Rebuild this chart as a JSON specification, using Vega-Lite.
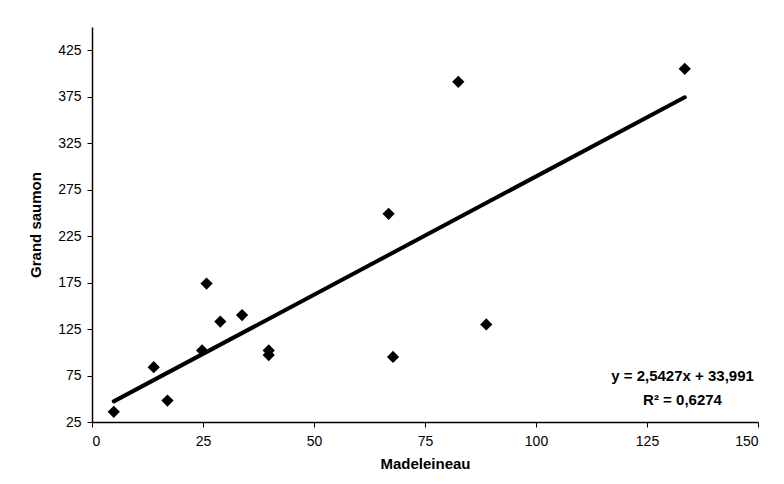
{
  "$schema": "https://vega.github.io/schema/vega-lite/v6.json",
  "autosize": {"type": "none"},
  "padding": {"left": 92, "top": 27, "right": 26, "bottom": 62},
  "width": 666,
  "height": 395,
  "background": "white",
  "config": {
    "view": {"stroke": null},
    "font": "Liberation Sans",
    "axis": {
      "grid": false,
      "domainColor": "black",
      "domainWidth": 1.5,
      "tickColor": "black",
      "tickSize": 5,
      "labelColor": "black",
      "labelFont": "Liberation Sans",
      "labelFontSize": 14,
      "titleFont": "Liberation Sans",
      "titleFontSize": 15,
      "titleFontWeight": "bold",
      "titleColor": "black"
    }
  },
  "datasets": {
    "pts": [
      {"Madeleineau": 4.9, "Grand saumon": 36},
      {"Madeleineau": 13.9, "Grand saumon": 84},
      {"Madeleineau": 17.0, "Grand saumon": 48},
      {"Madeleineau": 24.8, "Grand saumon": 102},
      {"Madeleineau": 25.8, "Grand saumon": 174},
      {"Madeleineau": 28.9, "Grand saumon": 133},
      {"Madeleineau": 33.8, "Grand saumon": 140},
      {"Madeleineau": 39.8, "Grand saumon": 102},
      {"Madeleineau": 39.8, "Grand saumon": 97},
      {"Madeleineau": 66.8, "Grand saumon": 249},
      {"Madeleineau": 67.8, "Grand saumon": 95},
      {"Madeleineau": 82.5, "Grand saumon": 391},
      {"Madeleineau": 88.8, "Grand saumon": 130},
      {"Madeleineau": 133.5, "Grand saumon": 405}
    ],
    "eq": [
      {"x": 133, "y": 74, "label": "y = 2,5427x + 33,991"},
      {"x": 133, "y": 49, "label": "R² = 0,6274"}
    ]
  },
  "layer": [
    {
      "data": {"name": "pts"},
      "transform": [{"regression": "Grand saumon", "on": "Madeleineau"}],
      "mark": {"type": "line", "color": "black", "strokeWidth": 4, "strokeCap": "round"},
      "encoding": {
        "x": {"field": "Madeleineau", "type": "quantitative", "scale": {"domain": [0, 150], "nice": false}, "axis": {"values": [0, 25, 50, 75, 100, 125, 150], "title": "Madeleineau", "titlePadding": 8, "labelPadding": 7}},
        "y": {"field": "Grand saumon", "type": "quantitative", "scale": {"domain": [25, 450], "nice": false, "zero": false}, "axis": {"values": [25, 75, 125, 175, 225, 275, 325, 375, 425], "title": "Grand saumon", "titlePadding": 14, "labelPadding": 6}}
      }
    },
    {
      "data": {"name": "pts"},
      "mark": {"type": "point", "shape": "diamond", "filled": true, "color": "black", "size": 150, "opacity": 1},
      "encoding": {
        "x": {"field": "Madeleineau", "type": "quantitative"},
        "y": {"field": "Grand saumon", "type": "quantitative"}
      }
    },
    {
      "data": {"name": "eq"},
      "mark": {"type": "text", "font": "Liberation Sans", "fontSize": 15, "fontWeight": "bold", "color": "black", "align": "center", "baseline": "middle"},
      "encoding": {
        "x": {"field": "x", "type": "quantitative"},
        "y": {"field": "y", "type": "quantitative"},
        "text": {"field": "label"}
      }
    }
  ]
}
